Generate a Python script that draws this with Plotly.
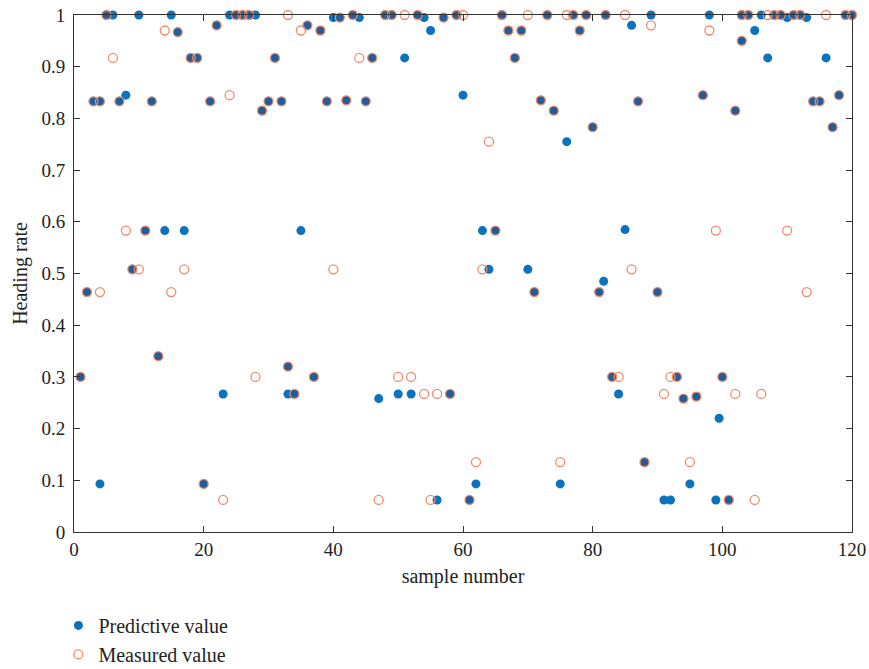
import plotly.graph_objects as go

pred_x = [1, 2, 3, 4, 4, 5, 6, 7, 8, 9, 10, 11, 12, 13, 14, 15, 16, 17, 18, 19, 20,
          21, 22, 23, 24, 25, 26, 27, 28, 29, 30, 31, 32, 33, 33, 34, 35, 36, 37, 38, 39, 40,
          41, 42, 43, 44, 45, 46, 47, 48, 49, 50, 51, 52, 53, 54, 55, 56, 57, 58, 59, 60,
          61, 62, 63, 64, 65, 66, 67, 68, 69, 70, 71, 72, 73, 74, 75, 76, 77, 78, 79, 80,
          81, 81.7, 82, 83, 84, 85, 86, 87, 88, 89, 90, 91, 92, 93, 94, 95, 96, 97, 98, 99, 99.5, 100,
          101, 102, 103, 103, 104, 105, 106, 107, 108, 109, 110, 111, 112, 113, 114, 115, 116, 117, 118, 119, 120]
pred_y = [0.300, 0.464, 0.833, 0.833, 0.093, 1.0, 1.0, 0.833, 0.845, 0.508, 1.0, 0.583, 0.833, 0.340, 0.583, 1.0, 0.967, 0.583, 0.917, 0.917, 0.093,
          0.833, 0.980, 0.267, 1.0, 1.0, 1.0, 1.0, 1.0, 0.815, 0.833, 0.917, 0.833, 0.320, 0.267, 0.267, 0.583, 0.980, 0.300, 0.970, 0.833, 0.995,
          0.995, 0.835, 1.0, 0.995, 0.833, 0.917, 0.258, 1.0, 1.0, 0.267, 0.917, 0.267, 1.0, 0.995, 0.970, 0.062, 0.995, 0.267, 1.0, 0.845,
          0.062, 0.093, 0.583, 0.508, 0.583, 1.0, 0.970, 0.917, 0.970, 0.508, 0.464, 0.835, 1.0, 0.815, 0.093, 0.755, 1.0, 0.970, 1.0, 0.783,
          0.464, 0.485, 1.0, 0.300, 0.267, 0.585, 0.980, 0.833, 0.135, 1.0, 0.464, 0.062, 0.062, 0.300, 0.258, 0.093, 0.262, 0.845, 1.0, 0.062, 0.220, 0.300,
          0.062, 0.815, 1.0, 0.950, 1.0, 0.970, 1.0, 0.917, 1.0, 1.0, 0.995, 1.0, 1.0, 0.995, 0.833, 0.833, 0.917, 0.783, 0.845, 1.0, 1.0]

meas_x = [1, 2, 3, 4, 4, 5, 6, 7, 8, 9, 10, 11, 12, 13, 14, 15, 16, 17, 18, 19, 20,
          21, 22, 23, 24, 25, 26, 27, 28, 29, 30, 31, 32, 33, 33, 34, 35, 36, 37, 38, 39, 40,
          41, 42, 43, 44, 45, 46, 47, 48, 49, 50, 51, 52, 53, 54, 55, 56, 57, 58, 59, 60,
          61, 62, 63, 64, 65, 66, 67, 68, 69, 70, 71, 72, 73, 74, 75, 76, 77, 78, 79, 80,
          81, 82, 83, 84, 85, 86, 87, 88, 89, 90, 91, 92, 93, 94, 95, 96, 97, 98, 99, 100,
          101, 102, 102, 103, 103, 104, 105, 106, 107, 108, 109, 110, 111, 112, 113, 114, 115, 116, 117, 118, 119, 120]
meas_y = [0.300, 0.464, 0.833, 0.833, 0.464, 1.0, 0.917, 0.833, 0.583, 0.508, 0.508, 0.583, 0.833, 0.340, 0.970, 0.464, 0.967, 0.508, 0.917, 0.917, 0.093,
          0.833, 0.980, 0.062, 0.845, 1.0, 1.0, 1.0, 0.300, 0.815, 0.833, 0.917, 0.833, 1.0, 0.320, 0.267, 0.970, 0.980, 0.300, 0.970, 0.833, 0.508,
          0.995, 0.835, 1.0, 0.917, 0.833, 0.917, 0.062, 1.0, 1.0, 0.300, 1.0, 0.300, 1.0, 0.267, 0.062, 0.267, 0.995, 0.267, 1.0, 1.0,
          0.062, 0.135, 0.508, 0.755, 0.583, 1.0, 0.970, 0.917, 0.970, 1.0, 0.464, 0.835, 1.0, 0.815, 0.135, 1.0, 1.0, 0.970, 1.0, 0.783,
          0.464, 1.0, 0.300, 0.300, 1.0, 0.508, 0.833, 0.135, 0.980, 0.464, 0.267, 0.300, 0.300, 0.258, 0.135, 0.262, 0.845, 0.970, 0.583, 0.300,
          0.062, 0.815, 0.267, 1.0, 0.950, 1.0, 0.062, 0.267, 1.0, 1.0, 1.0, 0.583, 1.0, 1.0, 0.464, 0.833, 0.833, 1.0, 0.783, 0.845, 1.0, 1.0]

x_ticks = [0, 20, 40, 60, 80, 100, 120]
y_ticks = [0, 0.1, 0.2, 0.3, 0.4, 0.5, 0.6, 0.7, 0.8, 0.9, 1]
y_tick_text = ["0", "0.1", "0.2", "0.3", "0.4", "0.5", "0.6", "0.7", "0.8", "0.9", "1"]

BLUE = "#0b72bd"
DARK = "#1f5e9a"
ORANGE = "#f08c6c"
FONT = "Liberation Serif"
TXT = "#222222"

# overlapping predicted/measured points (drawn darker, as in the reference)
meas_set = set(zip(meas_x, meas_y))
ov_x = [x for x, y in zip(pred_x, pred_y) if (x, y) in meas_set]
ov_y = [y for x, y in zip(pred_x, pred_y) if (x, y) in meas_set]

fig = go.Figure()
fig.add_trace(go.Scatter(x=pred_x, y=pred_y, mode="markers", name="Predictive value",
                         marker=dict(symbol="circle", size=9, color=BLUE, line=dict(width=0)),
                         cliponaxis=False))
fig.add_trace(go.Scatter(x=ov_x, y=ov_y, mode="markers", showlegend=False,
                         marker=dict(symbol="circle", size=9, color=DARK, line=dict(width=0)),
                         cliponaxis=False, hoverinfo="skip"))
fig.add_trace(go.Scatter(x=meas_x, y=meas_y, mode="markers", name="Measured value",
                         marker=dict(symbol="circle-open", size=9, color=ORANGE, line=dict(width=1.3)),
                         cliponaxis=False))

axis_common = dict(showline=True, linecolor="#333333", linewidth=1, mirror="ticks",
                   ticks="inside", ticklen=6, tickwidth=1, tickcolor="#333333",
                   showgrid=False, zeroline=False, automargin=False,
                   ticklabeloverflow="allow",
                   tickfont=dict(family=FONT, size=19, color=TXT))

fig.update_xaxes(range=[0, 120], tickvals=x_ticks,
                 title=dict(text="sample number", font=dict(family=FONT, size=20, color=TXT), standoff=10),
                 **axis_common)
fig.update_yaxes(range=[0, 1], tickvals=y_ticks, ticktext=y_tick_text, ticklabelstandoff=4,
                 title=dict(text="Heading rate", font=dict(family=FONT, size=20, color=TXT), standoff=8),
                 **axis_common)

fig.update_layout(
    width=869, height=700,
    margin=dict(l=74, r=17, t=15, b=168),
    plot_bgcolor="white", paper_bgcolor="white",
    font=dict(family=FONT, size=19, color=TXT),
    legend=dict(x=-0.02, y=-0.143, xanchor="left", yanchor="top", orientation="v",
                font=dict(family=FONT, size=20, color=TXT),
                itemwidth=30, bgcolor="rgba(0,0,0,0)"),
)

fig.write_html("out.html",
               config={"displayModeBar": False},
               post_script="document.body.style.margin='0';document.body.style.overflow='hidden';")
